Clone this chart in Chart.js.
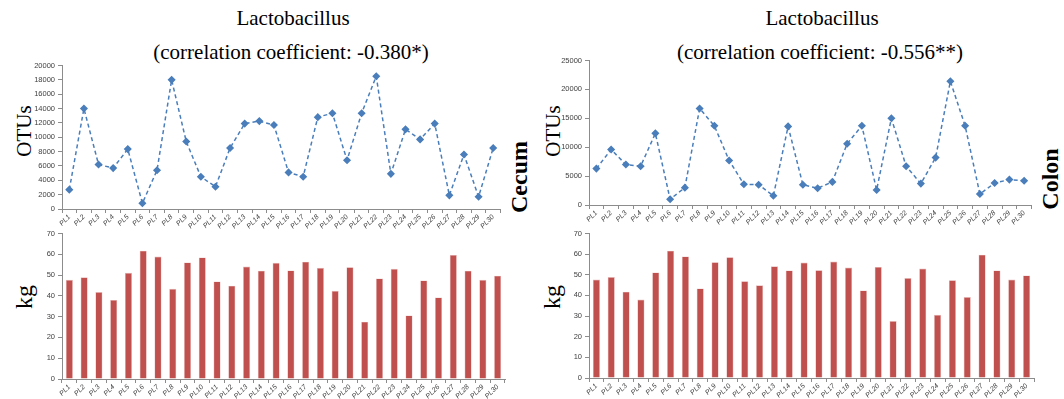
<!DOCTYPE html>
<html>
<head>
<meta charset="utf-8">
<script src="https://cdn.jsdelivr.net/npm/chart.js@4"></script>
<style>
  body { margin: 0; background: #fff; width: 1064px; height: 399px; overflow: hidden; position: relative; }
  .box { position: absolute; }
  .txt { position: absolute; font-family: "Liberation Serif", "Times New Roman", serif; color: #000; white-space: nowrap; }
  .title { font-size: 21px; transform: translateX(-50%); }
  .side { transform: translate(-50%, -50%) rotate(-90deg); }
</style>
</head>
<body>
<div class="txt title" style="left:293px; top:6px;">Lactobacillus</div>
<div class="txt title" style="left:291px; top:40px;">(correlation coefficient: -0.380*)</div>
<div class="txt title" style="left:822px; top:6px;">Lactobacillus</div>
<div class="txt title" style="left:820px; top:40px;">(correlation coefficient: -0.556**)</div>

<div class="txt side" style="left:24px; top:131px; font-size:21px;">OTUs</div>
<div class="txt side" style="left:24px; top:297px; font-size:24px;">kg</div>
<div class="txt side" style="left:553px; top:131px; font-size:21px;">OTUs</div>
<div class="txt side" style="left:552px; top:297px; font-size:24px;">kg</div>
<div class="txt side" style="left:519px; top:177px; font-size:24px; font-weight:bold;">Cecum</div>
<div class="txt side" style="left:1050px; top:179px; font-size:24px; font-weight:bold;">Colon</div>

<div class="box" style="left:0; top:58px; width:506px; height:171px;"><canvas id="cecumLine"></canvas></div>
<div class="box" style="left:0; top:226px; width:507px; height:173px;"><canvas id="cecumBar"></canvas></div>
<div class="box" style="left:530px; top:53px; width:507px; height:172px;"><canvas id="colonLine"></canvas></div>
<div class="box" style="left:530px; top:226px; width:506px; height:172px;"><canvas id="colonBar"></canvas></div>

<script>
const samples = ['PL1','PL2','PL3','PL4','PL5','PL6','PL7','PL8','PL9','PL10',
  'PL11','PL12','PL13','PL14','PL15','PL16','PL17','PL18','PL19','PL20',
  'PL21','PL22','PL23','PL24','PL25','PL26','PL27','PL28','PL29','PL30'];

const cecumOtus = [2700, 14000, 6200, 5700, 8350, 800, 5400, 18000, 9400, 4500,
  3100, 8500, 11900, 12250, 11700, 5100, 4500, 12800, 13350, 6800,
  13350, 18500, 4900, 11100, 9700, 11900, 1900, 7600, 1700, 8500];

const colonOtus = [6300, 9600, 7000, 6700, 12400, 1000, 3000, 16700, 13700, 7700,
  3600, 3500, 1600, 13600, 3500, 2900, 4000, 10600, 13700, 2600,
  15000, 6700, 3700, 8200, 21400, 13700, 1900, 3800, 4400, 4200];

const weightKg = [47.7, 48.9, 41.8, 38.0, 51.1, 61.7, 58.9, 43.4, 56.1, 58.5,
  46.9, 44.9, 54.1, 52.1, 55.9, 52.2, 56.4, 53.5, 42.4, 53.8,
  27.6, 48.4, 53.0, 30.6, 47.4, 39.2, 59.7, 52.1, 47.7, 49.7];

const tickFont = { family: 'Liberation Sans, Arial, sans-serif', size: 7.5 };
const tickColor = '#404040';
const axisColor = '#8c8c8c';

function xScale() {
  return {
    offset: true,
    grid: { display: true, drawOnChartArea: false, offset: true, tickLength: 4, color: axisColor },
    border: { color: axisColor },
    ticks: { color: tickColor, font: { family: 'Liberation Sans, Arial, sans-serif', size: 7, style: 'italic' },
      minRotation: 45, maxRotation: 45, autoSkip: false, padding: 0 },
    afterFit: function(s) { s.height = 20; }
  };
}

function yScale(max, step, width) {
  return {
    min: 0, max: max,
    grid: { display: true, drawOnChartArea: false, tickLength: 4, color: axisColor },
    border: { color: axisColor },
    ticks: { stepSize: step, color: tickColor, font: tickFont, padding: 3,
      callback: function(v) { return String(v); } },
    afterFit: function(s) { s.width = width; }
  };
}

function makeLine(id, values, max, step, yWidth) {
  new Chart(document.getElementById(id), {
    type: 'line',
    data: {
      labels: samples,
      datasets: [{
        data: values,
        borderColor: '#4A7EBB',
        backgroundColor: '#4A7EBB',
        borderWidth: 1.5,
        borderDash: [4, 3],
        pointStyle: 'rectRot',
        pointRadius: 3,
        tension: 0
      }]
    },
    options: {
      responsive: true,
      maintainAspectRatio: false,
      animation: false,
      layout: { padding: { top: 0, right: 2, left: 0, bottom: 0 } },
      plugins: { legend: { display: false }, tooltip: { enabled: false } },
      scales: { x: xScale(), y: yScale(max, step, yWidth) }
    }
  });
}

function makeBar(id, values, yWidth) {
  new Chart(document.getElementById(id), {
    type: 'bar',
    data: {
      labels: samples,
      datasets: [{
        data: values,
        backgroundColor: '#C0504D',
        borderColor: '#E6B9B8',
        borderWidth: 0.6,
        categoryPercentage: 1,
        barPercentage: 0.48
      }]
    },
    options: {
      responsive: true,
      maintainAspectRatio: false,
      animation: false,
      layout: { padding: { top: 0, right: 2, left: 0, bottom: 0 } },
      plugins: { legend: { display: false }, tooltip: { enabled: false } },
      scales: { x: xScale(), y: yScale(70, 10, yWidth) }
    }
  });
}

makeLine('cecumLine', cecumOtus, 20000, 2000, 62);
makeBar('cecumBar', weightKg, 62);
makeLine('colonLine', colonOtus, 25000, 5000, 59);
makeBar('colonBar', weightKg, 59);
</script>
</body>
</html>
